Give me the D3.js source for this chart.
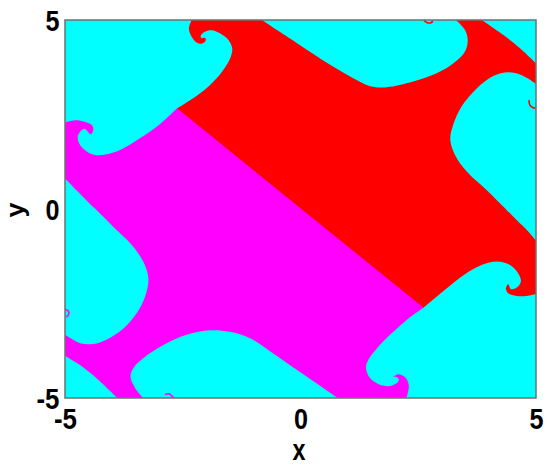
<!DOCTYPE html>
<html><head><meta charset="utf-8">
<style>html,body{margin:0;padding:0;background:#fff}svg{display:block}text{font-family:"Liberation Sans",Arial,sans-serif;font-weight:700;fill:#000}</style>
<script src="https://cdn.jsdelivr.net/npm/d3@7/dist/d3.min.js"></script></head>
<body><script>
const xTicks=[-5,0,5], yTicks=[-5,0,5];
const xLabel="x", yLabel="y";
const basinColor="#00ffff", redColor="#ff0000", magentaColor="#ff00ff";

// Basin boundaries in data coordinates, one array per smooth arc.
const redSpiralTop=[[-2.31,5],[-2.37,4.78],[-2.33,4.60],[-2.24,4.44],[-2.13,4.37],[-2.04,4.41],[-2.01,4.49],[-2.04,4.53],[-2.10,4.52],[-2.12,4.58],[-2.03,4.69],[-1.89,4.73],[-1.71,4.65],[-1.53,4.47],[-1.45,4.25],[-1.48,4.03],[-1.57,3.81],[-1.78,3.46],[-2.13,3.06],[-2.63,2.65]];
const divider=[[-2.63,2.65],[2.60,-2.62]];
const redSpiralRight=[[2.60,-2.62],[3.10,-2.10],[3.46,-1.75],[3.81,-1.50],[4.17,-1.39],[4.45,-1.48],[4.62,-1.70],[4.68,-1.92],[4.59,-2.08],[4.47,-2.12],[4.41,-1.99],[4.36,-2.10],[4.41,-2.23],[4.59,-2.30],[4.80,-2.30],[5,-2.25]];
const redEdgeA=[[5,-2.25],[5,-0.84]];
const redBlobRight=[[5,-0.84],[4.84,-0.60],[4.59,-0.29],[4.38,-0.03],[3.95,0.50],[3.53,0.99],[3.28,1.43],[3.18,1.83],[3.24,2.22],[3.42,2.71],[3.74,3.19],[4.09,3.52],[4.41,3.62],[4.70,3.54],[5,3.31]];
const redEdgeB=[[5,3.31],[5,3.85]];
const redCorner=[[5,3.85],[4.66,4.25],[4.31,4.60],[3.85,5]];
const redEdgeC=[[3.85,5],[3.30,5]];
const redBlobTop=[[3.30,5],[3.49,4.74],[3.55,4.47],[3.49,4.16],[3.24,3.85],[2.89,3.59],[2.39,3.37],[1.83,3.22],[1.48,3.25],[1.12,3.46],[0.70,3.76],[0.20,4.16],[-0.22,4.51],[-0.82,5]];

const magSpiralLeft=[[-5,2.29],[-4.79,2.35],[-4.58,2.31],[-4.43,2.22],[-4.40,2.09],[-4.45,1.98],[-4.51,2.04],[-4.58,2.12],[-4.67,2.06],[-4.73,1.91],[-4.68,1.69],[-4.54,1.52],[-4.36,1.43],[-4.11,1.45],[-3.83,1.56],[-3.41,1.87],[-2.98,2.25],[-2.63,2.65]];
const magSpiralBottom=[[2.60,-2.62],[2.25,-2.94],[1.90,-3.33],[1.62,-3.69],[1.44,-3.99],[1.39,-4.21],[1.48,-4.48],[1.65,-4.63],[1.86,-4.69],[2.04,-4.61],[2.09,-4.51],[2.03,-4.44],[1.97,-4.44],[2.08,-4.37],[2.22,-4.45],[2.30,-4.66],[2.25,-5]];
const magEdgeA=[[2.25,-5],[0.79,-5]];
const magBlobBottom=[[0.79,-5],[0.34,-4.61],[-0.01,-4.31],[-0.58,-3.82],[-1.07,-3.42],[-1.50,-3.25],[-1.92,-3.21],[-2.42,-3.33],[-2.91,-3.60],[-3.34,-3.95],[-3.55,-4.21],[-3.61,-4.44],[-3.51,-4.74],[-3.34,-5]];
const magEdgeB=[[-3.34,-5],[-3.89,-5]];
const magCorner=[[-3.89,-5],[-4.33,-4.48],[-4.68,-4.13],[-5,-3.88]];
const magEdgeC=[[-5,-3.88],[-5,-3.33]];
const magBlobLeft=[[-5,-3.33],[-4.68,-3.55],[-4.40,-3.57],[-4.11,-3.45],[-3.76,-3.16],[-3.48,-2.76],[-3.30,-2.32],[-3.23,-1.83],[-3.34,-1.39],[-3.58,-0.95],[-3.95,-0.50],[-4.38,0.03],[-5,0.81]];
const magEdgeD=[[-5,0.81],[-5,2.29]];

// Tiny curls that sit on the frame.
const curlTopRed=[[2.62,4.99],[2.69,4.93],[2.77,4.93],[2.81,4.97]];
const curlRightRed=[[4.85,2.88],[4.87,2.75],[4.94,2.68],[5,2.67]];
const curlLeftMag=[[-5,-2.65],[-4.93,-2.70],[-4.92,-2.78],[-4.97,-2.86]];
const curlBottomMag=[[-2.88,-4.91],[-2.79,-4.89],[-2.73,-4.95],[-2.69,-5]];

const width=550,height=468;
const x=d3.scaleLinear().domain([-5,5]).range([65,536]);
const y=d3.scaleLinear().domain([-5,5]).range([398,20]);
const svg=d3.select("body").append("svg").attr("width",width).attr("height",height);
const smooth=d3.line().x(d=>x(d[0])).y(d=>y(d[1])).curve(d3.curveCatmullRom.alpha(0.5));
function region(arcs){return arcs.map((a,i)=>{const s=smooth(a);return i?s.replace(/^M/,"L"):s;}).join("")+"Z";}

svg.append("rect").attr("x",x(-5)).attr("y",y(5)).attr("width",x(5)-x(-5)).attr("height",y(-5)-y(5)).attr("fill",basinColor);
svg.append("path").attr("d",region([redSpiralTop,divider,redSpiralRight,redEdgeA,redBlobRight,redEdgeB,redCorner,redEdgeC,redBlobTop])).attr("fill",redColor);
svg.append("path").attr("d",smooth(divider)).attr("fill","none").attr("stroke",magentaColor).attr("stroke-width",1.2);
svg.append("path").attr("d",region([magSpiralLeft,divider,magSpiralBottom,magEdgeA,magBlobBottom,magEdgeB,magCorner,magEdgeC,magBlobLeft,magEdgeD])).attr("fill",magentaColor);
[[curlTopRed,redColor],[curlRightRed,redColor],[curlLeftMag,magentaColor],[curlBottomMag,magentaColor]].forEach(([c,col])=>{
  svg.append("path").attr("d",smooth(c)).attr("fill","none").attr("stroke",col).attr("stroke-width",1.6);
});
svg.append("rect").attr("x",x(-5)).attr("y",y(5)).attr("width",x(5)-x(-5)).attr("height",y(-5)-y(5)).attr("fill","none").attr("stroke","#6e7272").attr("stroke-width",1.5);

const fs=29;
const squeeze=d=>String(d).length>1?23:14;
const xAxis=d3.axisBottom(x).tickValues(xTicks).tickSize(0).tickPadding(0).tickFormat(d=>String(d));
const gx=svg.append("g").attr("transform",`translate(0,${y(-5)})`).attr("font-family",null).call(xAxis);
gx.select(".domain").remove();
gx.selectAll("text").attr("font-size",fs).attr("y",0).attr("dy",30.5)
  .attr("textLength",squeeze).attr("lengthAdjust","spacingAndGlyphs");
const yAxis=d3.axisLeft(y).tickValues(yTicks).tickSize(0).tickPadding(0).tickFormat(d=>String(d));
const gy=svg.append("g").attr("transform",`translate(${x(-5)},0)`).attr("font-family",null).call(yAxis);
gy.select(".domain").remove();
gy.selectAll("text").attr("font-size",fs).attr("x",-5.5).attr("dy",0).attr("y",10)
  .attr("textLength",squeeze).attr("lengthAdjust","spacingAndGlyphs");
svg.append("text").attr("x",299).attr("y",460).attr("text-anchor","middle").attr("font-size",fs).attr("textLength",13).attr("lengthAdjust","spacingAndGlyphs").text(xLabel);
svg.append("text").attr("transform","translate(23.5,210) rotate(-90)").attr("text-anchor","middle").attr("font-size",26).attr("textLength",15).attr("lengthAdjust","spacingAndGlyphs").text(yLabel);
</script></body></html>
